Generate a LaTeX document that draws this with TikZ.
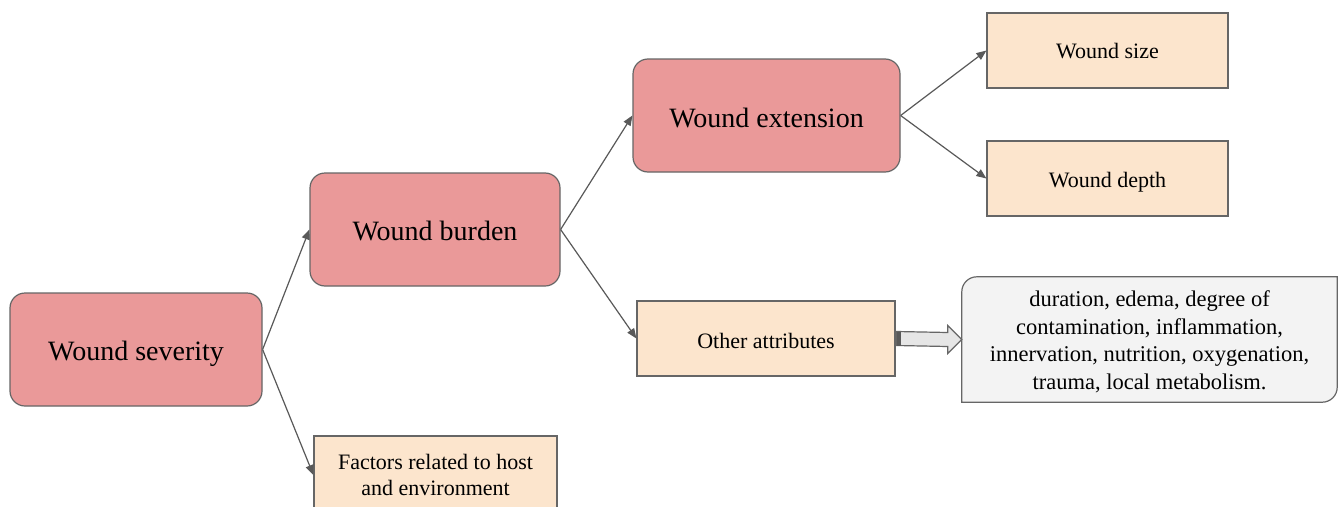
\documentclass[tikz,border=0pt]{standalone}
\usepackage{fontspec}
\setmainfont{Liberation Serif}
\usetikzlibrary{arrows.meta,calc}
\definecolor{pinkfill}{HTML}{EA9999}
\definecolor{peachfill}{HTML}{FCE5CD}
\definecolor{grayfill}{HTML}{F3F3F3}
\definecolor{edgegray}{HTML}{666666}
\definecolor{linegray}{HTML}{595959}
\definecolor{arrowfill}{HTML}{E6E6E6}
\newcommand{\lowertext}[2]{\raisebox{-#1}[\height][\depth]{#2}}
\tikzset{
  bigbox/.style={draw=edgegray, line width=1.2pt, fill=pinkfill, rounded corners=15pt,
    inner sep=0pt, font=\fontsize{28}{33}\selectfont},
  smallbox/.style={draw=edgegray, line width=1.2pt, fill=peachfill,
    inner sep=0pt, align=center, font=\fontsize{22}{27}\selectfont},
  conn/.style={draw=linegray, line width=1.2pt, -{Triangle[length=10pt,width=8pt]}},
}
\begin{document}
\begin{tikzpicture}[x=1pt,y=-1pt]
\useasboundingbox (0,0) rectangle (1340,506);
\clip (0,0) rectangle (1340,506);
\fill[white] (0,0) rectangle (1340,506);

\node[bigbox, minimum width=252pt, minimum height=113pt] (sev) at (136,349.5) {\lowertext{4pt}{Wound severity}};
\node[bigbox, minimum width=250pt, minimum height=113pt] (bur) at (435,229.5) {\lowertext{1pt}{Wound burden}};
\node[bigbox, minimum width=267pt, minimum height=113pt] (ext) at (766.5,115.5) {\lowertext{2pt}{Wound extension}};
\node[smallbox, minimum width=241pt, minimum height=75pt] (size) at (1107.5,50.5) {\lowertext{1pt}{Wound size}};
\node[smallbox, minimum width=241pt, minimum height=75pt] (depth) at (1107.5,178.5) {\lowertext{4pt}{Wound depth}};
\node[smallbox, minimum width=258pt, minimum height=75pt] (oa) at (766,338.5) {\lowertext{2pt}{Other attributes}};
\node[smallbox, minimum width=243pt, minimum height=78pt] (fac) at (435.5,475) {Factors related to host\\[-0.5pt]and environment};

% gray box with two rounded corners
\node[minimum width=375pt, minimum height=125pt, inner sep=0pt] (g) at (1149.5,339.5) {};
\draw[draw=edgegray, line width=1.2pt, fill=grayfill]
  (g.south west) -- ($(g.north west)+(0,15)$)
  .. controls ($(g.north west)+(0,6.7)$) and ($(g.north west)+(6.7,0)$) .. ($(g.north west)+(15,0)$)
  -- (g.north east) -- ($(g.south east)+(0,-15)$)
  .. controls ($(g.south east)+(0,-6.7)$) and ($(g.south east)+(-6.7,0)$) .. ($(g.south east)+(-15,0)$)
  -- cycle;
\node[align=center, inner sep=0pt, font=\fontsize{22.5}{27.5}\selectfont] (gt) at (1149.5,342)
  {duration, edema, degree of\\contamination, inflammation,\\innervation, nutrition, oxygenation,\\trauma, local metabolism.};

% connectors
\draw[conn] (sev.east) -- (bur.west);
\draw[conn] (sev.east) -- (fac.west);
\draw[conn] (bur.east) -- (ext.west);
\draw[conn] (bur.east) -- (oa.west);
\draw[conn] (ext.east) -- (size.west);
\draw[conn] (ext.east) -- (depth.west);

% block arrow from Other attributes to gray box
\draw[draw=edgegray, line width=1.2pt, fill=arrowfill]
  ($(oa.east)+(1,-7)$) -- ($(g.west)+(-14,-7)$) -- ($(g.west)+(-14,-14)$) -- (g.west)
  -- ($(g.west)+(-14,14)$) -- ($(g.west)+(-14,7)$) -- ($(oa.east)+(1,7)$) -- cycle;
\fill[linegray] ($(oa.east)+(1,-7)$) rectangle ($(oa.east)+(5,7)$);
\end{tikzpicture}
\end{document}
